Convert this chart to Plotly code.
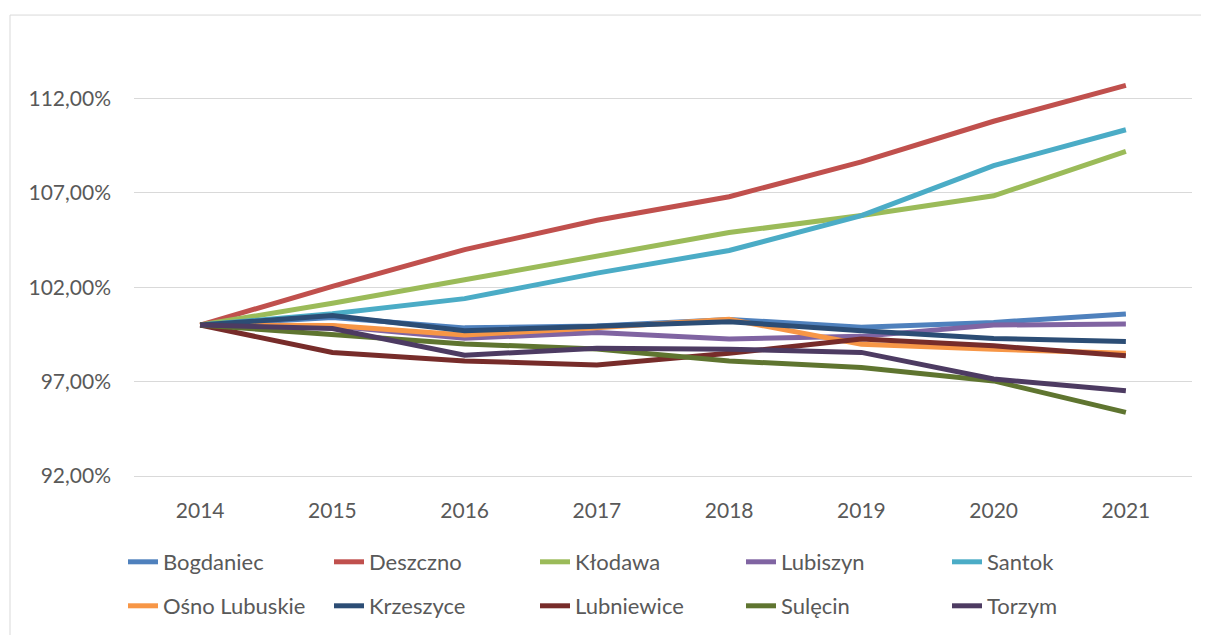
import plotly.graph_objects as go

years = ["2014", "2015", "2016", "2017", "2018", "2019", "2020", "2021"]

bogdaniec = [100, 100.40, 99.85, 99.95, 100.30, 99.88, 100.14, 100.58]
deszczno = [100, 102.05, 104.00, 105.55, 106.80, 108.65, 110.80, 112.70]
klodawa = [100, 101.15, 102.40, 103.65, 104.90, 105.80, 106.85, 109.20]
lubiszyn = [100, 99.95, 99.30, 99.60, 99.26, 99.40, 100.00, 100.05]
santok = [100, 100.60, 101.40, 102.75, 103.95, 105.80, 108.45, 110.35]
osno = [100, 99.97, 99.47, 99.85, 100.30, 98.98, 98.72, 98.50]
krzeszyce = [100, 100.50, 99.70, 99.92, 100.18, 99.70, 99.29, 99.13]
lubniewice = [100, 98.55, 98.10, 97.88, 98.50, 99.26, 98.90, 98.37]
sulecin = [100, 99.53, 99.00, 98.73, 98.10, 97.75, 97.04, 95.37]
torzym = [100, 99.82, 98.40, 98.77, 98.72, 98.55, 97.14, 96.52]

series = [
    ("Bogdaniec", bogdaniec, "#4F81BD"),
    ("Deszczno", deszczno, "#C0504D"),
    ("Kłodawa", klodawa, "#9BBB59"),
    ("Lubiszyn", lubiszyn, "#8064A2"),
    ("Santok", santok, "#4BACC6"),
    ("Ośno Lubuskie", osno, "#F79646"),
    ("Krzeszyce", krzeszyce, "#2C4D75"),
    ("Lubniewice", lubniewice, "#772C2A"),
    ("Sulęcin", sulecin, "#5F7530"),
    ("Torzym", torzym, "#4D3B62"),
]

FONT = "Lato, 'Open Sans', sans-serif"
TXT = "#595959"

fig = go.Figure()
for i, (name, vals, col) in enumerate(series):
    fig.add_trace(go.Scatter(
        x=years, y=vals, name=name, mode="lines",
        line=dict(color=col, width=5),
        legend="legend" if i < 5 else "legend2",
    ))

# page has an 8px body margin; figure coordinates = page coordinates - 8
OFF = 8
W, H = 1209 - 2 * OFF, 635 - OFF
L = 134 - OFF
R = W - (1192 - OFF)
T = 42 - OFF
B = H - (477 - OFF)
pw, ph = W - L - R, H - T - B

def px2x(px):
    return (px - OFF - L) / pw

def py2y(py):
    return (H - B - (py - OFF)) / ph

legend_common = dict(
    orientation="h", xanchor="left", yanchor="middle",
    font=dict(family=FONT, size=22, color=TXT),
    entrywidth=161, entrywidthmode="pixels",
    bgcolor="rgba(0,0,0,0)",
)

fig.update_layout(
    width=W, height=H,
    margin=dict(l=L, r=R, t=T, b=B),
    paper_bgcolor="white", plot_bgcolor="white",
    separators=",.",
    font=dict(family=FONT, size=21, color=TXT),
    legend=dict(x=px2x(123), y=py2y(562), **legend_common),
    legend2=dict(x=px2x(123), y=py2y(606), **legend_common),
    xaxis=dict(
        type="category", range=[-0.5, 7.5],
        showgrid=False, showline=True, linecolor="#D9D9D9", linewidth=1,
        ticks="", ticklabelstandoff=16,
        tickfont=dict(family=FONT, size=21, color=TXT),
    ),
    yaxis=dict(
        range=[92, 115], tick0=92, dtick=5,
        tickformat=".2f", ticksuffix="%",
        showgrid=True, gridcolor="#D9D9D9", gridwidth=1,
        zeroline=False, showline=False, ticks="",
        ticklabelstandoff=22,
        tickfont=dict(family=FONT, size=21, color=TXT),
    ),
    showlegend=True,
)

fig.add_shape(
    type="rect", xref="paper", yref="paper",
    x0=px2x(10), x1=px2x(1230), y0=py2y(660), y1=py2y(15),
    line=dict(color="#D9D9D9", width=1), fillcolor="rgba(0,0,0,0)",
    layer="below",
)

fig.write_html("out.html")
